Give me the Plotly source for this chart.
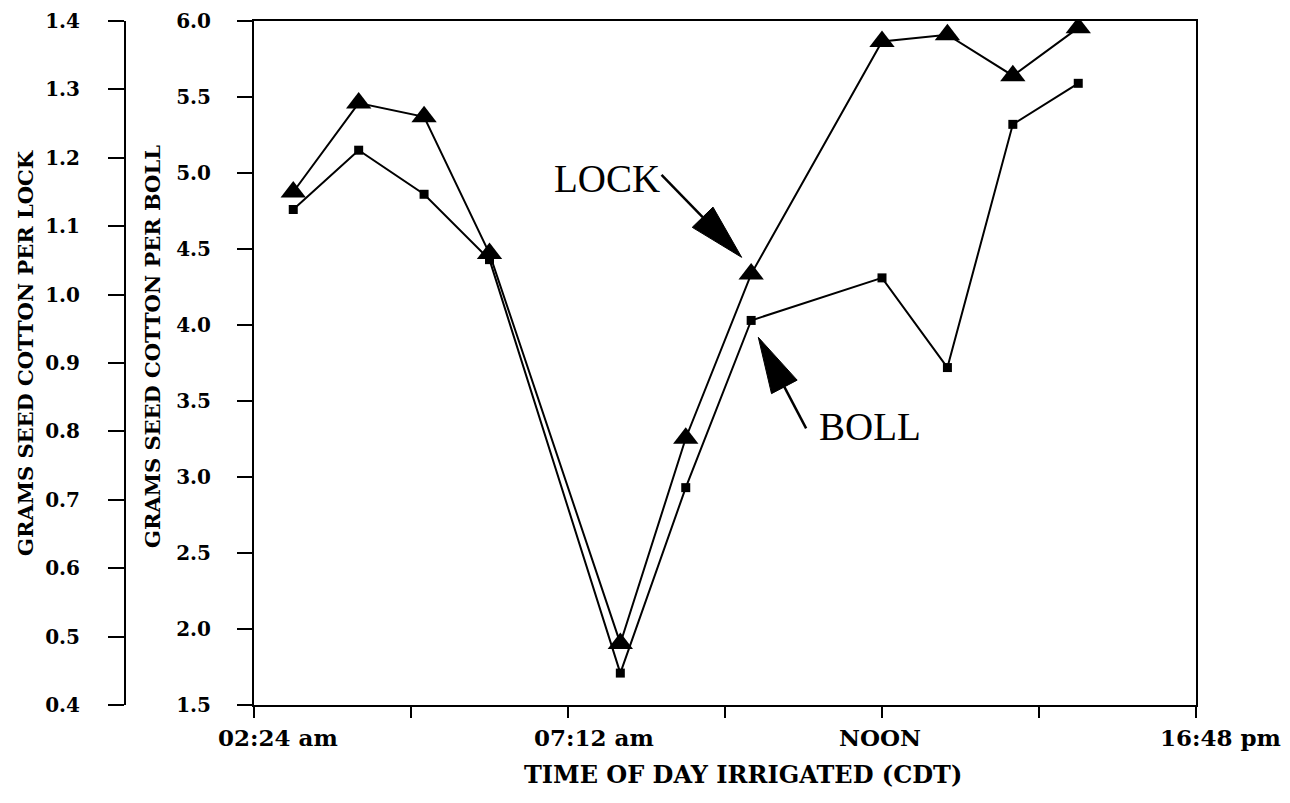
import math
import plotly.graph_objects as go

# ---------------- data ----------------
hours = [3, 4, 5, 6, 8, 9, 10, 12, 13, 14, 15]
lock_grams = [1.15, 1.28, 1.26, 1.06, 0.49, 0.79, 1.03, 1.37, 1.38, 1.32, 1.39]
boll_grams = [4.76, 5.15, 4.86, 4.43, 1.71, 2.93, 4.03, 4.31, 3.72, 5.32, 5.59]

x_tick_hours = [2.4, 4.8, 7.2, 9.6, 12.0, 14.4, 16.8]
x_tick_labels = ["02:24 am", "07:12 am", "NOON", "16:48 pm"]
x_tick_label_hours = [2.77, 7.59, 11.97, 17.17]

lock_ticks = [0.4, 0.5, 0.6, 0.7, 0.8, 0.9, 1.0, 1.1, 1.2, 1.3, 1.4]
boll_ticks = [1.5, 2.0, 2.5, 3.0, 3.5, 4.0, 4.5, 5.0, 5.5, 6.0]

# ---------------- layout constants (reference pixel space) ----------------
OFF = 8                      # page body margin of the html page
FW, FH = 1290 - OFF, 803 - OFF
PL, PR, PT, PB = 254, 1196, 21, 705
X0, X1 = 2.4, 16.8
B0, B1 = 1.5, 6.0
L0, L1 = 0.4, 1.4
LOCK_AXIS_PX = 125

SERIF_B = dict(family="DejaVu Serif", color="black", weight=700)


def to_px(h, b):
    return (PL + (h - X0) / (X1 - X0) * (PR - PL),
            PB - (b - B0) / (B1 - B0) * (PB - PT))


def to_data(px, py):
    return (X0 + (px - PL) / (PR - PL) * (X1 - X0),
            B0 + (PB - py) / (PB - PT) * (B1 - B0))


def px_to_paper(px):
    return (px - OFF) / FW


def py_to_paper(py):
    return (PB - py) / (PB - PT)


fig = go.Figure()

fig.add_trace(go.Scatter(
    x=hours, y=boll_grams, mode="lines+markers", name="BOLL",
    line=dict(color="black", width=2),
    marker=dict(symbol="square", size=9, color="black"),
    yaxis="y", showlegend=False))

fig.add_trace(go.Scatter(
    x=hours, y=lock_grams, mode="lines+markers", name="LOCK",
    line=dict(color="black", width=2),
    marker=dict(symbol="triangle-up", size=22, color="black"),
    yaxis="y2", showlegend=False))

# ---------------- arrows with long filled heads ----------------
arrows = [
    dict(text="LOCK", text_at=(7.80, 4.967), tail=(8.63, 4.987), tip=(9.855, 4.445)),
    dict(text="BOLL", text_at=(11.81, 3.331), tail=(10.84, 3.320), tip=(10.109, 3.919)),
]
HEAD_LEN, HEAD_W = 56, 29
shapes = []
annotations = []
for a in arrows:
    sx, sy = to_px(*a["tail"])
    tx, ty = to_px(*a["tip"])
    d = math.hypot(tx - sx, ty - sy)
    ux, uy = (tx - sx) / d, (ty - sy) / d
    bx, by = tx - ux * HEAD_LEN, ty - uy * HEAD_LEN
    nx, ny = -uy, ux
    c1 = to_data(bx + nx * HEAD_W / 2, by + ny * HEAD_W / 2)
    c2 = to_data(bx - nx * HEAD_W / 2, by - ny * HEAD_W / 2)
    base = to_data(bx, by)
    shapes.append(dict(type="line", xref="x", yref="y",
                       x0=a["tail"][0], y0=a["tail"][1], x1=base[0], y1=base[1],
                       line=dict(color="black", width=2.5)))
    shapes.append(dict(type="path", xref="x", yref="y",
                       path=f"M{a['tip'][0]},{a['tip'][1]} L{c1[0]},{c1[1]} L{c2[0]},{c2[1]} Z",
                       fillcolor="black", line=dict(color="black", width=1)))
    annotations.append(dict(text=a["text"], x=a["text_at"][0], y=a["text_at"][1],
                            xref="x", yref="y", showarrow=False,
                            xanchor="center", yanchor="middle",
                            font=dict(family="Liberation Serif", size=39, color="black")))

# x tick labels (typed slightly right of their ticks, as in the original)
for lab, hx in zip(x_tick_labels, x_tick_label_hours):
    annotations.append(dict(text=lab, x=px_to_paper(to_px(hx, B0)[0]), y=py_to_paper(737),
                            xref="paper", yref="paper",
                            showarrow=False, xanchor="center", yanchor="middle",
                            font=dict(size=23, **SERIF_B)))

# axis titles
annotations.append(dict(text="TIME OF DAY IRRIGATED (CDT)", x=px_to_paper(742.5), y=py_to_paper(774),
                        xref="paper", yref="paper", showarrow=False,
                        xanchor="center", yanchor="middle", font=dict(size=24, **SERIF_B)))
annotations.append(dict(text="GRAMS SEED COTTON PER LOCK", x=px_to_paper(25), y=py_to_paper(353),
                        xref="paper", yref="paper", showarrow=False, textangle=-90,
                        xanchor="center", yanchor="middle", font=dict(size=21, **SERIF_B)))
annotations.append(dict(text="GRAMS SEED COTTON PER BOLL", x=px_to_paper(152), y=py_to_paper(347),
                        xref="paper", yref="paper", showarrow=False, textangle=-90,
                        xanchor="center", yanchor="middle", font=dict(size=21, **SERIF_B)))

fig.update_layout(
    width=FW, height=FH,
    margin=dict(l=0, r=0, t=PT - OFF, b=FH - (PB - OFF), pad=0),
    paper_bgcolor="white", plot_bgcolor="white",
    showlegend=False,
    xaxis=dict(domain=[px_to_paper(PL), px_to_paper(PR)], range=[X0, X1],
               tickmode="array", tickvals=x_tick_hours, showticklabels=False,
               ticks="outside", ticklen=11, tickwidth=2, tickcolor="black",
               showline=True, linecolor="black", linewidth=2, mirror=True,
               showgrid=False, zeroline=False),
    yaxis=dict(range=[B0, B1], tickmode="array", tickvals=boll_ticks,
               ticktext=[f"{v:.1f}" for v in boll_ticks],
               ticks="outside", ticklen=15, tickwidth=2, tickcolor="black",
               ticklabelstandoff=22,
               tickfont=dict(size=20, **SERIF_B),
               showline=True, linecolor="black", linewidth=2, mirror=True,
               showgrid=False, zeroline=False),
    yaxis2=dict(range=[L0, L1], overlaying="y", anchor="free", side="left",
                position=px_to_paper(LOCK_AXIS_PX), tickmode="array", tickvals=lock_ticks,
                ticktext=[f"{v:.1f}" for v in lock_ticks],
                ticks="outside", ticklen=16, tickwidth=2, tickcolor="black",
                ticklabelstandoff=24,
                tickfont=dict(size=20, **SERIF_B),
                showline=True, linecolor="black", linewidth=2,
                showgrid=False, zeroline=False),
    shapes=shapes,
    annotations=annotations,
)

fig.write_html("out.html")
